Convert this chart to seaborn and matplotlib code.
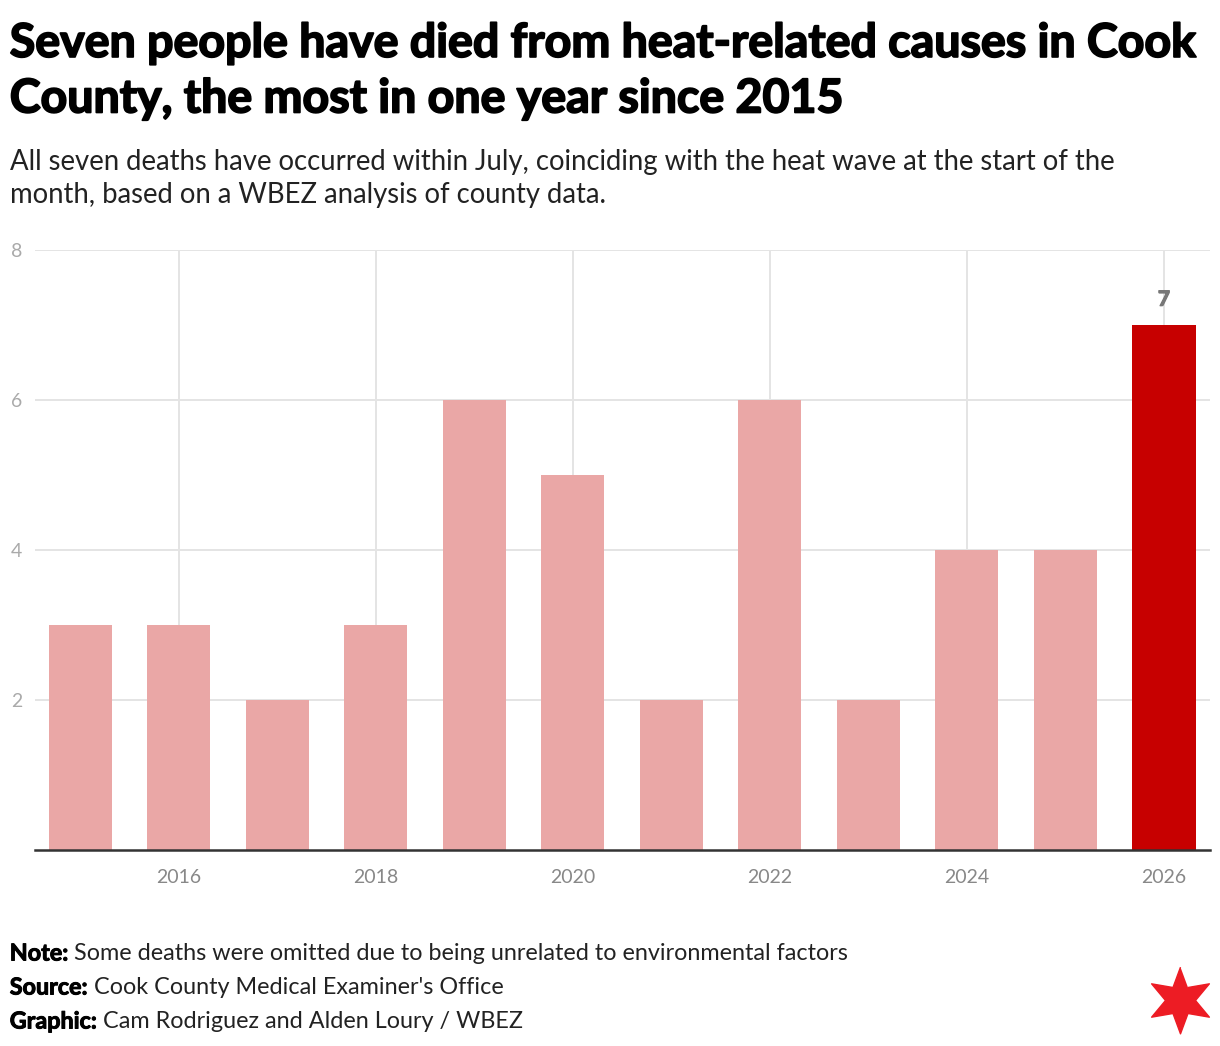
import matplotlib
matplotlib.use("Agg")
import matplotlib.pyplot as plt
import matplotlib.patheffects as pe
import seaborn as sns
import pandas as pd
import numpy as np

sns.set_theme(style="white")
plt.rcParams['font.family'] = ['Lato', 'DejaVu Sans']

years = [2015, 2016, 2017, 2018, 2019, 2020, 2021, 2022, 2023, 2024, 2025, 2026]
deaths = [3, 3, 2, 3, 6, 5, 2, 6, 2, 4, 4, 7]
highlight_year = 2026
xtick_years = [2016, 2018, 2020, 2022, 2024, 2026]
ytick_vals = [2, 4, 6, 8]

title = ("Seven people have died from heat-related causes in Cook\n"
         "County, the most in one year since 2015")
subtitle = ("All seven deaths have occurred within July, coinciding with the heat wave at the start of the\n"
            "month, based on a WBEZ analysis of county data.")
footer = [("Note:", " Some deaths were omitted due to being unrelated to environmental factors"),
          ("Source:", " Cook County Medical Examiner's Office"),
          ("Graphic:", " Cam Rodriguez and Alden Loury / WBEZ")]

df = pd.DataFrame({"year": years, "deaths": deaths})
df["group"] = ["hi" if y == highlight_year else "lo" for y in years]

fig = plt.figure(figsize=(12.2, 10.46), dpi=100)
ax = fig.add_axes([0.0287, 0.1874, 0.9631, 0.5736])

sns.barplot(data=df, x="year", y="deaths", hue="group", native_scale=True,
            palette={"lo": "#EAA7A6", "hi": "#C70000"}, width=0.64,
            saturation=1, legend=False, ax=ax, zorder=3, linewidth=0)

ax.set_xlim(2014.543, 2026.467)
ax.set_ylim(0, 8)
ax.set_xticks(xtick_years)
ax.set_xticklabels([str(y) for y in xtick_years])
ax.set_yticks(ytick_vals)
ax.grid(True, color="#e4e4e4", linewidth=1.4, zorder=0)
ax.set_axisbelow(True)
for s in ["top", "right", "left"]:
    ax.spines[s].set_visible(False)
ax.spines["bottom"].set_color("#333333")
ax.spines["bottom"].set_linewidth(1.8)
ax.spines["bottom"].set_zorder(4)
ax.tick_params(axis="x", length=0, pad=14, labelsize=14, labelcolor="#888888")
ax.tick_params(axis="y", length=0, pad=9, labelsize=14, labelcolor="#aaaaaa")
ax.set_xlabel("")
ax.set_ylabel("")

# value label on the highlighted bar
hv = deaths[years.index(highlight_year)]
ax.annotate(str(hv), (highlight_year, hv), xytext=(0, 11), textcoords="offset points",
            ha="center", va="bottom", fontsize=15, fontweight="bold", color="#777777",
            path_effects=[pe.withStroke(linewidth=0.9, foreground="#777777")])

fig.text(0.008, 0.98, title, ha="left", va="top", fontsize=33.5, fontweight="bold",
         color="#000000", linespacing=1.32,
         path_effects=[pe.withStroke(linewidth=1.3, foreground="#000000")])
fig.text(0.008, 0.858, subtitle, ha="left", va="top", fontsize=19.8,
         color="#222222", linespacing=1.36)

fig.canvas.draw()
renderer = fig.canvas.get_renderer()
for i, (bold, rest) in enumerate(footer):
    y = 1 - (954 + i * 34) / 1046
    t = fig.text(0.008, y, bold, ha="left", va="center", fontsize=16.8,
                 fontweight="bold", color="#000000",
                 path_effects=[pe.withStroke(linewidth=0.7, foreground="#000000")])
    bb = t.get_window_extent(renderer)
    fig.text(bb.x1 / fig.bbox.width, y, rest, ha="left", va="center",
             fontsize=16.8, color="#222222")

# Chicago star
ang = np.pi / 2 + np.arange(12) * np.pi / 6
rad = np.where(np.arange(12) % 2 == 0, 1.0, 0.45)
star = np.column_stack([rad * np.cos(ang), rad * np.sin(ang)])
sax = fig.add_axes([0.92, 0.0, 0.094, 0.088])
sax.set_xlim(-1, 1)
sax.set_ylim(-1, 1)
sax.plot([0], [0], marker=star, markersize=48, color="#ED1C24", linestyle="none")
sax.axis("off")

fig.savefig("out.png", dpi=100)
